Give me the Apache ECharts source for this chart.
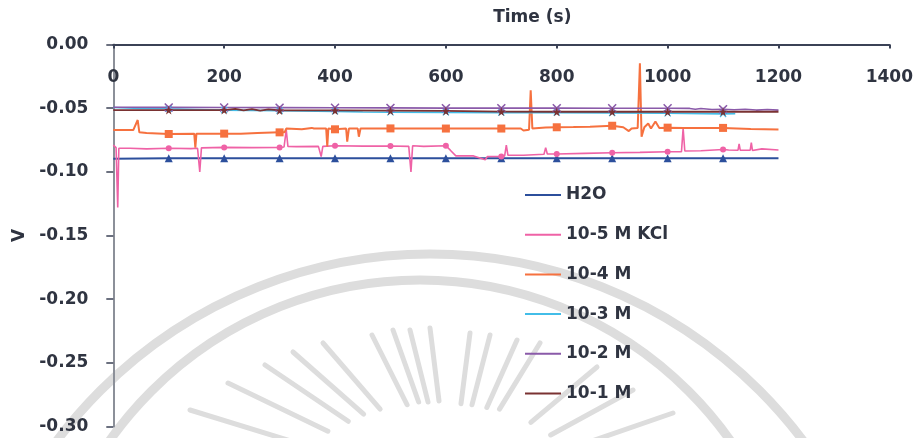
<!DOCTYPE html>
<html>
<head>
<meta charset="utf-8">
<script src="https://cdn.jsdelivr.net/npm/echarts@6/dist/echarts.min.js"></script>
<style>
  html, body { margin: 0; padding: 0; background: #ffffff; }
  #chart { width: 916px; height: 438px; }
</style>
</head>
<body>
<div id="chart"></div>
<script>
// Potential (V) versus time (s) for water and KCl solutions
const seriesNames = ['H2O', '10-5 M KCl', '10-4 M', '10-3 M', '10-2 M', '10-1 M'];
const xTicks = [0, 200, 400, 600, 800, 1000, 1200, 1400];
const yTicks = [0, -0.05, -0.10, -0.15, -0.20, -0.25, -0.30];
// times at which each trace carries a marker
const markerTimes = [100, 200, 300, 400, 500, 600, 700, 800, 900, 1000, 1100];

const h2o = [
  [0, -0.0897], [100, -0.0893], [200, -0.0893], [300, -0.0893], [400, -0.0893],
  [500, -0.0893], [600, -0.0893], [700, -0.0893], [800, -0.0893], [900, -0.0893],
  [1000, -0.0893], [1100, -0.0893], [1200, -0.0893]
];

const kcl5 = [
  [0, -0.079], [5, -0.081], [8, -0.128], [10, -0.0815], [30, -0.0815], [60, -0.082],
  [100, -0.0815], [140, -0.0818], [152, -0.0815], [156, -0.100], [159, -0.0812],
  [200, -0.0808], [250, -0.081], [300, -0.0808], [308, -0.0805], [312, -0.067],
  [315, -0.080], [330, -0.0802], [370, -0.080], [375, -0.088], [378, -0.080],
  [400, -0.0795], [450, -0.0798], [500, -0.0797], [533, -0.080], [537, -0.100],
  [540, -0.0795], [560, -0.080], [600, -0.0795], [608, -0.083], [618, -0.0875],
  [650, -0.0875], [671, -0.0905], [675, -0.088], [700, -0.088], [706, -0.0875],
  [709, -0.079], [712, -0.087], [740, -0.087], [777, -0.0862], [780, -0.081],
  [783, -0.086], [800, -0.086], [850, -0.0855], [900, -0.085], [950, -0.0847],
  [1000, -0.0842], [1025, -0.0842], [1028, -0.0658], [1031, -0.0836], [1060, -0.0835],
  [1100, -0.0825], [1110, -0.0828], [1127, -0.083], [1129, -0.078], [1131, -0.083],
  [1149, -0.083], [1151, -0.077], [1153, -0.0832], [1170, -0.082], [1200, -0.0828]
];

const kcl4 = [
  [0, -0.0672], [36, -0.0672], [44, -0.0593], [47, -0.069], [60, -0.0695],
  [100, -0.0703], [146, -0.070], [148, -0.081], [150, -0.070], [200, -0.070],
  [230, -0.070], [260, -0.0695], [300, -0.069], [309, -0.069], [312, -0.066],
  [340, -0.0665], [358, -0.0655], [362, -0.066], [384, -0.066], [386, -0.080],
  [388, -0.066], [400, -0.0666], [420, -0.066], [422, -0.0763], [425, -0.066],
  [441, -0.066], [443, -0.0724], [446, -0.066], [500, -0.0659], [540, -0.066],
  [600, -0.066], [650, -0.066], [700, -0.066], [735, -0.066], [740, -0.0675],
  [750, -0.067], [753, -0.036], [756, -0.066], [780, -0.0652], [800, -0.065],
  [830, -0.0648], [860, -0.0645], [900, -0.0638], [920, -0.065], [930, -0.068],
  [935, -0.066], [946, -0.0655], [950, -0.0148], [953, -0.0725], [958, -0.065],
  [965, -0.062], [970, -0.066], [978, -0.0605], [985, -0.0655], [1000, -0.0653],
  [1030, -0.0655], [1060, -0.0656], [1100, -0.0655], [1150, -0.0663], [1200, -0.0668]
];

const kcl3 = [
  [0, -0.0495], [50, -0.0502], [90, -0.050], [100, -0.0505], [150, -0.051],
  [200, -0.0515], [300, -0.052], [400, -0.0525], [450, -0.053], [500, -0.0532],
  [600, -0.0533], [700, -0.0535], [800, -0.0535], [900, -0.0537], [1000, -0.054],
  [1100, -0.0545], [1122, -0.0543]
];

const kcl2 = [
  [0, -0.0493], [100, -0.0494], [200, -0.0495], [300, -0.0496], [400, -0.0497],
  [500, -0.0498], [600, -0.050], [700, -0.050], [800, -0.050], [900, -0.0501],
  [1000, -0.0501], [1040, -0.0502], [1050, -0.0508], [1060, -0.0503], [1080, -0.051],
  [1100, -0.0508], [1120, -0.0512], [1140, -0.0508], [1160, -0.0515], [1180, -0.0511],
  [1200, -0.0515]
];

const kcl1 = [
  [0, -0.0515], [100, -0.0515], [200, -0.0515], [220, -0.0505], [235, -0.0518],
  [250, -0.0507], [265, -0.052], [280, -0.051], [300, -0.0518], [400, -0.0518],
  [500, -0.052], [600, -0.0522], [700, -0.0527], [800, -0.0528], [900, -0.0528],
  [1000, -0.0528], [1100, -0.0528], [1200, -0.0528]
];

const colors = ['#2c4f9c', '#ef62a6', '#f6713f', '#42bde8', '#8a5aa9', '#7a3232'];
const lineWidths = [2, 1.6, 2, 1.6, 1.6, 1.8];
const STAR = 'path://M50,0 L61,35 L98,35 L68,57 L79,91 L50,70 L21,91 L32,57 L2,35 L39,35 Z';
const CROSS = 'path://M0,12 L12,0 L50,38 L88,0 L100,12 L62,50 L100,88 L88,100 L50,62 L12,100 L0,88 L38,50 Z';
const symbols = ['triangle', 'circle', 'rect', CROSS, CROSS, STAR];
const symbolSizes = [8, 6, 8, 7, 9, 9];
const dataSets = [h2o, kcl5, kcl4, kcl3, kcl2, kcl1];

function withMarkers(pairs) {
  return pairs.map(function (p) {
    return markerTimes.indexOf(p[0]) >= 0 ? p : { value: p, symbol: 'none' };
  });
}

const FONT = 'DejaVu Sans';
const TEXT = '#2f3441';

// faint emblem drawn behind the plot
const bgColor = '#dddddd';
const rayEnds = [
  [190, 410], [228, 383], [265, 365], [293, 352], [323, 343], [372, 335], [393, 330],
  [410, 330], [430, 328], [470, 333], [490, 335], [517, 340], [540, 343], [597, 367],
  [633, 390], [673, 413]
];
const rayCenter = [450, 490];
const emblem = [
  { type: 'arc', z: -10, silent: true,
    shape: { cx: 430, cy: 720, r: 466, startAngle: Math.PI, endAngle: 2 * Math.PI },
    style: { stroke: bgColor, lineWidth: 9, fill: null } },
  { type: 'arc', z: -10, silent: true,
    shape: { cx: 420, cy: 660, r: 380, startAngle: Math.PI, endAngle: 2 * Math.PI },
    style: { stroke: bgColor, lineWidth: 9, fill: null } }
].concat(rayEnds.map(function (e) {
  const f = 0.45;
  return {
    type: 'line', z: -10, silent: true,
    shape: { x1: e[0], y1: e[1],
      x2: e[0] + (rayCenter[0] - e[0]) * f, y2: e[1] + (rayCenter[1] - e[1]) * f },
    style: { stroke: bgColor, lineWidth: 5, lineCap: 'round' }
  };
}));

const chart = echarts.init(document.getElementById('chart'), null, { renderer: 'canvas' });
chart.setOption({
  animation: false,
  backgroundColor: '#ffffff',
  graphic: emblem,
  grid: { left: 113.3, right: 23.3, top: 44.5, bottom: 11.5, containLabel: false },
  legend: {
    orient: 'vertical',
    left: 520,
    top: 180,
    itemWidth: 36,
    itemHeight: 2,
    itemGap: 19.7,
    icon: 'rect',
    data: seriesNames,
    textStyle: { fontFamily: FONT, fontWeight: 'bold', fontSize: 17, color: TEXT, lineHeight: 20 }
  },
  xAxis: {
    type: 'value',
    position: 'top',
    min: xTicks[0],
    max: xTicks[xTicks.length - 1],
    interval: 200,
    name: 'Time (s)',
    nameLocation: 'middle',
    nameGap: 18,
    nameTextStyle: { fontFamily: FONT, fontWeight: 'bold', fontSize: 17, color: TEXT, padding: [0, 0, 0, 62] },
    axisLine: { show: true, onZero: false, lineStyle: { color: '#3b4256', width: 2 } },
    axisTick: { show: true, inside: true, length: 4, lineStyle: { color: '#3b4256', width: 2 } },
    axisLabel: {
      inside: true, margin: 25, fontFamily: FONT, fontWeight: 'bold', fontSize: 17, color: TEXT,
      formatter: function (v) { return String(v); }
    },
    splitLine: { show: false }
  },
  yAxis: {
    type: 'value',
    min: yTicks[yTicks.length - 1],
    max: yTicks[0],
    interval: 0.05,
    name: 'V',
    nameLocation: 'middle',
    nameGap: 82,
    nameTextStyle: { fontFamily: FONT, fontWeight: 'bold', fontSize: 17, color: TEXT },
    axisLine: { show: true, onZero: false, lineStyle: { color: '#8c9099', width: 2 } },
    axisTick: { show: true, inside: false, length: 7, lineStyle: { color: '#3b4256', width: 1.5 } },
    axisLabel: {
      margin: 25, fontFamily: FONT, fontWeight: 'bold', fontSize: 17, color: TEXT,
      formatter: function (v) { return (Math.abs(v) < 1e-9 ? 0 : v).toFixed(2); }
    },
    splitLine: { show: false }
  },
  series: dataSets.map(function (d, i) {
    return {
      name: seriesNames[i],
      type: 'line',
      data: withMarkers(d),
      showAllSymbol: true,
      symbol: symbols[i],
      symbolSize: symbolSizes[i],
      lineStyle: { color: colors[i], width: lineWidths[i] },
      itemStyle: { color: colors[i] },
      emphasis: { disabled: true }
    };
  })
});
</script>
</body>
</html>
